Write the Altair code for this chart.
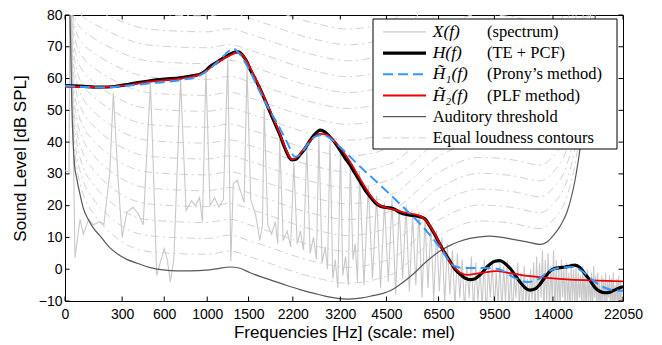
import altair as alt
import pandas as pd

# ---------------- data ----------------
X_TICKS = [0, 300, 600, 1000, 1500, 2200, 3200, 4500, 6500, 9500, 14000, 22050]
Y_TICKS = [-10, 0, 10, 20, 30, 40, 50, 60, 70, 80]

# H(f) (TE + PCF): (frequency Hz, level dB SPL)
H_PTS = [(0, 57.8), (69, 57.6), (171, 57.3), (256, 57.5), (350, 58.3), (490, 59.3), (606, 59.8),
         (735, 60.2), (875, 61.0), (925, 61.4), (977, 62.3), (1030, 63.8), (1085, 64.8), (1141, 65.8),
         (1199, 66.8), (1260, 67.7), (1322, 68.3), (1360, 68.4), (1425, 67.2), (1479, 65.2), (1520, 63.0),
         (1590, 60.0), (1663, 56.8), (1738, 53.2), (1815, 49.5), (1895, 45.8), (1977, 42.2), (2062, 38.0),
         (2132, 35.3), (2185, 34.4), (2258, 34.6), (2333, 36.0), (2429, 38.0), (2528, 40.5), (2630, 42.5),
         (2736, 43.8), (2845, 43.2), (2957, 41.6), (3073, 39.8), (3192, 37.5), (3316, 35.0), (3443, 32.8),
         (3574, 30.2), (3710, 27.6), (3849, 25.0), (3994, 22.9), (4142, 21.0), (4296, 19.9), (4454, 19.5),
         (4617, 19.3), (4786, 18.8), (4960, 17.8), (5324, 17.0), (5712, 16.5), (5915, 15.8), (6124, 13.5),
         (6341, 10.8), (6564, 7.8), (6794, 5.0), (7031, 2.5), (7276, 0.0), (7529, -1.5), (7790, -2.8),
         (8059, -3.3), (8336, -3.0), (8623, -1.8), (8918, 0.0), (9223, 1.6), (9537, 2.5), (9862, 2.7),
         (10196, 1.8), (10541, 0.3), (10898, -1.8), (11265, -4.0), (11644, -5.8), (12035, -6.6),
         (12439, -6.2), (12855, -4.7), (13285, -2.5), (13728, -0.6), (14185, 0.3), (14657, 0.5),
         (15143, 0.7), (15645, 1.0), (16163, 1.3), (16697, 0.5), (17249, -1.5), (17817, -3.5),
         (18404, -5.8), (19009, -7.0), (19634, -7.4), (20278, -7.2), (20943, -6.5), (21629, -5.8),
         (22050, -5.5)]

# H~1(f) (Prony's method)
H1_PTS = [(0, 57.7), (171, 57.2), (350, 57.8), (490, 58.5), (735, 59.5), (925, 61.0), (1085, 64.5),
          (1199, 67.5), (1297, 69.4), (1386, 67.5), (1520, 62.3), (1663, 55.7), (1815, 49.8), (1928, 46.0),
          (2097, 40.0), (2240, 35.4), (2333, 36.0), (2468, 39.0), (2630, 41.7), (2801, 42.3), (2957, 41.2),
          (3192, 38.5), (3710, 32.3), (4296, 26.5), (4960, 20.5), (5712, 14.3), (6564, 6.8), (7177, 1.3),
          (7685, 0.4), (8623, 0.4), (9411, 0.3), (10062, -0.5), (10898, -2.8), (11799, -4.0),
          (12604, -3.4), (13461, -1.0), (14372, 0.3), (15954, 0.7), (17027, -0.8), (18168, -3.5),
          (19383, -5.6), (20677, -6.6), (22050, -6.8)]

# H~2(f) (PLF method)
H2_PTS = [(0, 57.5), (171, 57.3), (350, 58.0), (490, 59.0), (735, 60.0), (925, 61.3), (1085, 64.5),
          (1260, 67.3), (1347, 68.2), (1425, 67.2), (1520, 63.5), (1663, 57.0), (1815, 50.0), (1977, 42.5),
          (2097, 37.0), (2185, 34.5), (2295, 35.5), (2429, 38.3), (2569, 41.0), (2736, 42.6), (2889, 42.3),
          (3073, 40.0), (3242, 37.5), (3443, 33.8), (3710, 28.5), (3994, 23.5), (4234, 20.5), (4454, 19.5),
          (4786, 18.7), (5139, 17.8), (5712, 16.8), (6040, 14.5), (6341, 11.0), (6701, 6.0), (7177, 1.0),
          (7529, -1.0), (7897, -1.8), (8623, -1.2), (9666, -0.6), (10541, -1.2), (12035, -2.2),
          (13728, -2.8), (15344, -3.2), (17817, -3.5), (22050, -3.8)]

# Auditory threshold
THR_PTS = [(20, 90), (22, 80), (25.3, 70), (30.3, 52), (37.2, 39), (42.7, 33), (53, 28.6), (69, 23.5),
           (84.7, 19.2), (108, 15.8), (135, 13), (171, 10.5), (227, 6.7), (274, 4.7), (329, 3.1),
           (404, 1.8), (490, 0.5), (590, -0.2), (705, -0.5), (827, -0.5), (995, -0.3), (1118, 0.2),
           (1260, 0.7), (1386, 0.3), (1520, -1.1), (1738, -2.8), (2028, -4.7), (2333, -6.4), (2672, -7.8),
           (2957, -8.8), (3366, -9.4), (3710, -9.1), (4082, -8.3), (4390, -7.6), (4617, -6.8), (4960, -4.8),
           (5438, -1.6), (5998, 2.6), (6564, 5.7), (7031, 7.5), (7529, 8.8), (8059, 9.7), (8623, 10.2),
           (9223, 10.4), (9862, 10.1), (10754, 9.4), (11799, 8.6), (12855, 7.8), (13461, 8.6),
           (14000, 10.5), (14657, 13.5), (15344, 18), (16163, 28), (16807, 40), (17360, 52), (17934, 66),
           (18522, 82), (19009, 95)]

# Equal loudness contours (phon -> level at CONTOUR_FREQ)
CONTOUR_FREQ = [20, 25.3, 30.3, 37.2, 53, 84.7, 135, 227, 490, 995, 1260, 1520, 2672, 3366, 4617, 6564,
                8623, 10754, 12855, 14000, 15344, 16163, 16807, 17360, 17934, 18522]
CONTOURS = {
    5: [92.5, 72.8, 55, 42.4, 32.4, 23.5, 17.6, 11.6, 5.5, 4.7, 5.7, 3.9, -2.8, -4.4, -1.8, 10.7, 15.2, 14.4, 12.8, 15.5, 23, 33, 45, 57, 71, 87],
    10: [95, 75.5, 58, 45.8, 36.2, 27.8, 22.2, 16.4, 10.5, 9.7, 10.7, 8.9, 2.2, 0.6, 3.2, 15.7, 20.2, 19.4, 17.8, 20.5, 28, 38, 50, 62, 76, 92],
    15: [97.5, 78.3, 61, 49.2, 40, 32.1, 26.8, 21.3, 15.5, 14.7, 15.7, 13.9, 7.2, 5.6, 8.2, 20.7, 25.2, 24.4, 22.8, 25.5, 33, 43, 55, 67, 81, 97],
    20: [100, 81, 64, 52.6, 43.8, 36.4, 31.4, 26.1, 20.5, 19.7, 20.7, 18.9, 12.2, 10.6, 13.2, 25.7, 30.2, 29.4, 27.8, 30.5, 38, 48, 60, 72, 86, 102],
    25: [102.5, 83.8, 67, 56, 47.6, 40.7, 36, 31, 25.5, 24.7, 25.7, 23.9, 17.2, 15.6, 18.2, 30.7, 35.2, 34.4, 32.8, 35.5, 43, 53, 65, 77, 91, 107],
    30: [105, 86.5, 70, 59.4, 51.4, 45, 40.6, 35.8, 30.5, 29.7, 30.7, 28.9, 22.2, 20.6, 23.2, 35.7, 40.2, 39.4, 37.8, 40.5, 48, 58, 70, 82, 96, 112],
    35: [107.5, 89.3, 73, 62.8, 55.2, 49.3, 45.2, 40.7, 35.5, 34.7, 35.7, 33.9, 27.2, 25.6, 28.2, 40.7, 45.2, 44.4, 42.8, 45.5, 53, 63, 75, 87, 101, 117],
    40: [110, 92, 76, 66.2, 59, 53.6, 49.8, 45.5, 40.5, 39.7, 40.7, 38.9, 32.2, 30.6, 33.2, 45.7, 50.2, 49.4, 47.8, 50.5, 58, 68, 80, 92, 106, 122],
    45: [112.5, 94.8, 79, 69.6, 62.8, 57.9, 54.4, 50.4, 45.5, 44.7, 45.7, 43.9, 37.2, 35.6, 38.2, 50.7, 55.2, 54.4, 52.8, 55.5, 63, 73, 85, 97, 111, 127],
    50: [115, 97.5, 82, 73, 66.6, 62.2, 59, 55.2, 50.5, 49.7, 50.7, 48.9, 42.2, 40.6, 43.2, 55.7, 60.2, 59.4, 57.8, 60.5, 68, 78, 90, 102, 116, 132],
    55: [117.5, 100.3, 85, 76.4, 70.4, 66.5, 63.6, 60.1, 55.5, 54.7, 55.7, 53.9, 47.2, 45.6, 48.2, 60.7, 65.2, 64.4, 62.8, 65.5, 73, 83, 95, 107, 121, 137],
    60: [120, 103, 88, 79.8, 74.2, 70.8, 68.2, 64.9, 60.5, 59.7, 60.7, 58.9, 52.2, 50.6, 53.2, 65.7, 70.2, 69.4, 67.8, 70.5, 78, 88, 100, 112, 126, 142],
    65: [122.5, 105.8, 91, 83.2, 78, 75.1, 72.8, 69.8, 65.5, 64.7, 65.7, 63.9, 57.2, 55.6, 58.2, 70.7, 75.2, 74.4, 72.8, 75.5, 83, 93, 105, 117, 131, 147],
    70: [125, 108.5, 94, 86.6, 81.8, 79.4, 77.4, 74.6, 70.5, 69.7, 70.7, 68.9, 62.2, 60.6, 63.2, 75.7, 80.2, 79.4, 77.8, 80.5, 88, 98, 110, 122, 136, 152],
    75: [127.5, 111.3, 97, 90, 85.6, 83.7, 82, 79.5, 75.5, 74.7, 75.7, 73.9, 67.2, 65.6, 68.2, 80.7, 85.2, 84.4, 82.8, 85.5, 93, 103, 115, 127, 141, 157],
    80: [130, 114, 100, 93.4, 89.4, 88, 86.6, 84.3, 80.5, 79.7, 80.7, 78.9, 72.2, 70.6, 73.2, 85.7, 90.2, 89.4, 87.8, 90.5, 98, 108, 120, 132, 146, 162],
    85: [132.5, 116.8, 103, 96.8, 93.2, 92.3, 91.2, 89.2, 85.5, 84.7, 85.7, 83.9, 77.2, 75.6, 78.2, 90.7, 95.2, 94.4, 92.8, 95.5, 103, 113, 125, 137, 151, 167],
}

# X(f) spectrum, low part (frequency Hz, level dB)
SPEC_LOW = [(0, 31), (18, 30.5), (22, 110), (45, 3.6), (69, 15.7), (85, 11), (111, 15.7), (135, 14),
            (171, 15), (192, 14), (225, 30), (246.5, 55.5), (275, 28), (300, 10), (330, 18), (370, 19.5),
            (405, 17.5), (440, 14), (493, 58.5), (520, 25), (540, -2), (600, 6.5), (625, 3), (650, -4),
            (680, 3), (739.5, 59.5), (790, 18.5), (840, 21.5), (880, 20), (920, 22.5), (950, 15),
            (986, 62.5), (1030, 20), (1080, 22.5), (1130, 19.5), (1180, 22), (1232.5, 66), (1270, 2.5),
            (1300, 27), (1350, 28), (1400, 24), (1440, 21), (1479, 63.5), (1530, 22), (1600, 17),
            (1660, 9), (1700, 14), (1725.5, 50.5), (1780, 14), (1840, 11), (1900, 15), (1940, 8),
            (1972, 41), (2030, 9), (2100, 12), (2160, 7), (2218.5, 33.5), (2280, 8), (2340, 12), (2400, 6),
            (2465, 38.5), (2530, 5), (2600, 10), (2660, 3), (2711.5, 42), (2780, 2), (2850, 7), (2900, 0),
            (2958, 40.5), (3020, -3), (3080, 3), (3140, -6), (3204.5, 38), (3260, -2), (3330, 4),
            (3400, -5), (3451, 34), (3520, 3), (3580, 8), (3640, -4)]

# X(f) spectrum, upper harmonics (fundamental read from the spike spacing)
F0 = 246.5
FIRST_HARMONIC = 15
HARM_PEAK = [31, 26, 23, 21, 22, 19, 20, 17, 18, 16, 14, 12, 10, 8, 6, 5,
             3, 1, 4, 2, 0, 3, 1, 2, -1, 2,
             1, 3, 0, -2, 2, -1, 1, -3, 0, 2,
             4, 2, 6, 3, 5, 1, 6, 3, 1, 3,
             1, 2, -1, 2, 0, 1, -1, -2, 1, -1,
             0, -3, -1, 1, -2, -1, -4, -2, -3, -1,
             -4, -2, -3, -1, -5, -3, -2, -4, -5]
HARM_TROUGH = [-5, -3, -6, -4, -8, -3, -7, -5, -9, -6, -10, -7, -11, -8, -12, -9,
               -13, -9, -14, -10, -12, -15, -9, -13, -11, -14,
               -10, -13, -15, -9, -12, -14, -11, -13, -10, -15,
               -12, -9, -14, -11, -13, -10, -15, -12, -14, -9,
               -13, -11, -15, -10, -12, -14, -9, -13, -11, -15,
               -10, -12, -14, -9, -13, -11, -15, -10, -12, -14,
               -9, -13, -11, -15, -10, -12, -14, -13]

LEGEND_MATH = ["X(f)", "H(f)", "H\u0303\u2081(f)", "H\u0303\u2082(f)", "", ""]
LEGEND_DESC = ["(spectrum)", "(TE + PCF)", "(Prony\u2019s method)", "(PLF method)",
               "Auditory threshold", "Equal loudness contours"]

# ---------------- styling / layout ----------------
W, H = 558, 286
C_SPEC = "#c8c8c8"
C_CONT = "#d2d2d2"
C_THR = "#595959"
C_BLUE = "#3399ff"
C_RED = "#ee0000"
DASH_BLUE = [10, 5]
DASH_CONT = [8, 4, 2, 4]

xs = alt.Scale(type="symlog", constant=700, domain=[0, 22050], nice=False)
ys = alt.Scale(domain=[-10, 80], nice=False, zero=False)

AX_X = alt.Axis(values=X_TICKS, format="d", ticks=False, domain=False, grid=False,
                labelFont="Liberation Sans", labelFontSize=14, labelColor="black", labelPadding=6,
                labelFlush=False, labelOverlap=False, labelBound=False,
                title="Frequencies [Hz] (scale: mel)", titleFont="Liberation Sans", titleFontSize=17,
                titleFontWeight="normal", titleColor="black", titleX=W / 2, titleY=36,
                titleAlign="center", titleBaseline="alphabetic")
AX_Y = alt.Axis(values=Y_TICKS, ticks=False, domain=False, grid=False,
                labelFont="Liberation Sans", labelFontSize=14, labelColor="black", labelPadding=3,
                labelOverlap=False, labelBound=False,
                title="Sound Level [dB SPL]", titleFont="Liberation Sans", titleFontSize=17,
                titleFontWeight="normal", titleColor="black", titleAngle=270, titleX=-44.5,
                titleY=H / 2, titleAlign="center", titleBaseline="middle")

X_ENC = alt.X("f:Q", scale=xs, axis=AX_X)
Y_ENC = alt.Y("db:Q", scale=ys, axis=AX_Y)


def pts_df(pts):
    return pd.DataFrame({"f": [p[0] for p in pts], "db": [p[1] for p in pts],
                         "i": list(range(len(pts)))})


# contours
rows = []
for phon, vals in CONTOURS.items():
    for j, (fr, v) in enumerate(zip(CONTOUR_FREQ, vals)):
        rows.append({"f": fr, "db": v, "phon": phon, "i": j})
contour_df = pd.DataFrame(rows)

# spectrum
spec = list(SPEC_LOW)
for n, pk in enumerate(HARM_PEAK):
    k = FIRST_HARMONIC + n
    spec.append((F0 * k, pk))
    if n < len(HARM_TROUGH):
        spec.append((F0 * (k + 0.5), HARM_TROUGH[n]))
spec_df = pts_df(spec)

contours = alt.Chart(contour_df).mark_line(
    color=C_CONT, strokeWidth=1, strokeDash=DASH_CONT, clip=True, interpolate="monotone"
).encode(x=X_ENC, y=Y_ENC, detail="phon:N", order="i:Q")

spectrum = alt.Chart(spec_df).mark_line(color=C_SPEC, strokeWidth=1.1, clip=True).encode(
    x=X_ENC, y=Y_ENC, order="i:Q")

threshold = alt.Chart(pts_df(THR_PTS)).mark_line(
    color=C_THR, strokeWidth=1.2, clip=True, interpolate="monotone").encode(x=X_ENC, y=Y_ENC, order="i:Q")

h_line = alt.Chart(pts_df(H_PTS)).mark_line(
    color="black", strokeWidth=3.2, clip=True, interpolate="monotone").encode(x=X_ENC, y=Y_ENC, order="i:Q")

h2_line = alt.Chart(pts_df(H2_PTS)).mark_line(
    color=C_RED, strokeWidth=1.8, clip=True, interpolate="monotone").encode(x=X_ENC, y=Y_ENC, order="i:Q")

h1_line = alt.Chart(pts_df(H1_PTS)).mark_line(
    color=C_BLUE, strokeWidth=2, strokeDash=DASH_BLUE, clip=True, interpolate="monotone"
).encode(x=X_ENC, y=Y_ENC, order="i:Q")

# inward ticks on all four sides
TL = 4.5
xt_df = pd.DataFrame({"f": X_TICKS})
yt_df = pd.DataFrame({"db": Y_TICKS})
tick_b = alt.Chart(xt_df).mark_rule(color="black", strokeWidth=1).encode(
    x=X_ENC, y=alt.value(H), y2=alt.value(H - TL))
tick_t = alt.Chart(xt_df).mark_rule(color="black", strokeWidth=1).encode(
    x=X_ENC, y=alt.value(0), y2=alt.value(TL))
tick_l = alt.Chart(yt_df).mark_rule(color="black", strokeWidth=1).encode(
    y=Y_ENC, x=alt.value(0), x2=alt.value(TL))
tick_r = alt.Chart(yt_df).mark_rule(color="black", strokeWidth=1).encode(
    y=Y_ENC, x=alt.value(W), x2=alt.value(W - TL))

# legend (drawn manually to mimic the MATLAB legend)
DUMMY = pd.DataFrame({"d": [0]})
LEG_X0, LEG_X1, LEG_Y0, LEG_Y1 = 308, 552, 4, 134
ROW_Y0, ROW_DY = 16.9, 21.2
SAMPLE_X0, SAMPLE_X1 = 318, 361
MATH_X, DESC_X = 367.7, 422

legend_layers = [
    alt.Chart(DUMMY).mark_rect(fill="white", stroke="black", strokeWidth=1).encode(
        x=alt.value(LEG_X0), x2=alt.value(LEG_X1), y=alt.value(LEG_Y0), y2=alt.value(LEG_Y1))
]
sample_styles = [
    dict(color=C_SPEC, strokeWidth=1.3),
    dict(color="black", strokeWidth=3.2),
    dict(color=C_BLUE, strokeWidth=2, strokeDash=DASH_BLUE),
    dict(color=C_RED, strokeWidth=1.8),
    dict(color=C_THR, strokeWidth=1.2),
    dict(color=C_CONT, strokeWidth=1, strokeDash=DASH_CONT),
]
for r, st in enumerate(sample_styles):
    yy = ROW_Y0 + r * ROW_DY
    legend_layers.append(alt.Chart(DUMMY).mark_rule(**st).encode(
        x=alt.value(SAMPLE_X0), x2=alt.value(SAMPLE_X1), y=alt.value(yy)))
    if LEGEND_MATH[r]:
        legend_layers.append(alt.Chart(DUMMY).mark_text(
            text=LEGEND_MATH[r], align="left", baseline="middle", font="Liberation Serif",
            fontSize=17.5, fontStyle="italic", color="black").encode(x=alt.value(MATH_X), y=alt.value(yy)))
        dx = DESC_X
    else:
        dx = MATH_X
    legend_layers.append(alt.Chart(DUMMY).mark_text(
        text=LEGEND_DESC[r], align="left", baseline="middle", font="Liberation Serif",
        fontSize=16.5, color="black").encode(x=alt.value(dx), y=alt.value(yy)))

chart = alt.layer(
    contours, spectrum, threshold, h_line, h2_line, h1_line,
    tick_b, tick_t, tick_l, tick_r, *legend_layers
).properties(
    width=W, height=H,
    autosize=alt.AutoSizeParams(type="none"),
    padding={"left": 57, "top": 7, "right": 20, "bottom": 42},
).configure(background="white").configure_view(stroke="black", strokeWidth=1)

chart.save("out.html", embed_options={"renderer": "svg", "actions": False})
